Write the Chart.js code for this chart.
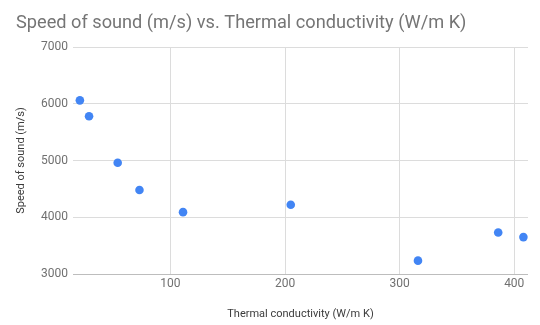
<!DOCTYPE html>
<html>
<head>
<meta charset="utf-8">
<script src="https://cdn.jsdelivr.net/npm/chart.js@4/dist/chart.umd.min.js"></script>
<style>
  html, body { margin: 0; padding: 0; background: #fff; }
  #wrap { width: 540px; height: 325px; }
</style>
</head>
<body>
<div id="wrap"><canvas id="grafico"></canvas></div>
<script>
// valores
const condutividade = [21, 29, 54, 73, 111, 205, 316, 386, 408];
const velocidade = [6060, 5780, 4960, 4480, 4090, 4220, 3235, 3730, 3650];
const ticksX = [100, 200, 300, 400];
const ticksY = [3000, 4000, 5000, 6000, 7000];

const titulo = "Speed of sound (m/s) vs. Thermal conductivity (W/m K)";

// título desenhado à mão, alinhado à esquerda
const tituloPlugin = {
  id: "tituloPlugin",
  afterDraw(chart) {
    const ctx = chart.ctx;
    ctx.save();
    ctx.font = "18.2px Roboto";
    ctx.fillStyle = "#757575";
    ctx.textBaseline = "alphabetic";
    ctx.fillText(titulo, 16, 28);
    ctx.restore();
  }
};

const ctx = document.getElementById("grafico").getContext("2d");
new Chart(ctx, {
  type: "scatter",
  data: {
    datasets: [{
      label: "Speed of sound (m/s)",
      data: condutividade.map((x, i) => ({ x: x, y: velocidade[i] })),
      backgroundColor: "#4285f4",
      borderColor: "#4285f4",
      pointRadius: 4.3,
      pointHoverRadius: 4.3,
      borderWidth: 0
    }]
  },
  plugins: [tituloPlugin],
  options: {
    responsive: true,
    maintainAspectRatio: false,
    animation: false,
    layout: { padding: { top: 47, right: 12, left: 0, bottom: 0 } },
    plugins: {
      legend: { display: false },
      tooltip: { enabled: false },
      title: { display: false }
    },
    scales: {
      x: {
        type: "linear",
        min: 15,
        max: 412,
        afterBuildTicks: axis => { axis.ticks = ticksX.map(v => ({ value: v })); },
        afterFit: axis => { axis.height = 51; },
        grid: { color: "#dcdcdc", drawTicks: false },
        border: { display: false },
        ticks: {
          color: "#707070",
          font: { family: "Roboto", size: 12 },
          padding: 3,
          callback: v => String(v)
        },
        title: {
          display: true,
          text: "Thermal conductivity (W/m K)",
          color: "#3c3c3c",
          font: { family: "Roboto", size: 11 },
          padding: { top: 0, bottom: 4 }
        }
      },
      y: {
        type: "linear",
        min: 3000,
        max: 7000,
        afterBuildTicks: axis => { axis.ticks = ticksY.map(v => ({ value: v })); },
        afterFit: axis => { axis.width = 73; },
        grid: {
          color: c => c.tick && c.tick.value === 3000 ? "#bdbdbd" : "#dcdcdc",
          drawTicks: false
        },
        border: { display: false },
        ticks: {
          color: "#707070",
          font: { family: "Roboto", size: 12 },
          padding: 5,
          callback: v => String(v)
        },
        title: {
          display: true,
          text: "Speed of sound (m/s)",
          color: "#3c3c3c",
          font: { family: "Roboto", size: 11 },
          padding: { top: 15, bottom: 0 }
        }
      }
    }
  }
});
</script>
</body>
</html>
